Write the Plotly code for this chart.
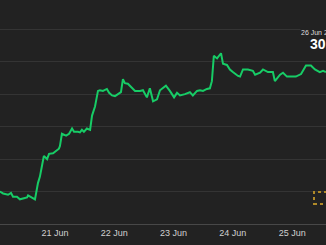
import plotly.graph_objects as go
from datetime import datetime, timedelta

# hours since 20 Jun 2025 00:00
hours = [1.7, 3.0, 5.0, 6.2, 7.0, 8.6, 9.8, 11.0, 12.7, 13.1, 14.7, 15.9, 17.1, 17.9, 18.7,
         19.5, 20.8, 21.6, 23.2, 24.4, 25.6, 26.0, 26.8, 28.5, 29.7, 30.9, 31.7, 33.3, 34.1,
         34.9, 35.7, 36.9, 38.2, 39.0, 40.2, 41.4, 42.2, 43.4, 45.0, 45.9, 47.1, 48.3, 49.5,
         50.7, 51.5, 52.3, 53.5, 55.2, 56.4, 58.4, 59.6, 61.2, 62.4, 63.7, 65.3, 66.5, 67.7,
         68.9, 70.5, 72.2, 73.4, 74.6, 76.6, 78.6, 79.8, 81.5, 82.7, 83.9, 85.5, 86.7, 87.5,
         88.3, 89.6, 90.4, 91.2, 91.6, 92.0, 93.6, 94.8, 96.0, 97.2, 98.1, 98.9, 100.1, 102.1,
         104.1, 105.0, 107.0, 108.2, 110.2, 112.2, 113.0, 115.1, 116.3, 117.9, 121.5, 123.6,
         125.6, 127.6, 129.2, 131.2, 132.5, 133.7]
prices = [28.50, 28.47, 28.45, 28.48, 28.42, 28.42, 28.38, 28.39, 28.41, 28.44, 28.41, 28.38,
          28.63, 28.73, 28.89, 29.05, 29.00, 29.08, 29.09, 29.13, 29.16, 29.20, 29.39, 29.36,
          29.39, 29.47, 29.42, 29.42, 29.41, 29.45, 29.42, 29.47, 29.45, 29.67, 29.81, 30.05,
          30.06, 30.05, 30.08, 30.02, 29.98, 29.97, 30.00, 30.03, 30.23, 30.17, 30.16, 30.09,
          30.05, 30.05, 30.06, 29.95, 30.09, 29.89, 29.92, 30.06, 30.09, 30.13, 30.05, 29.95,
          30.02, 29.98, 30.00, 30.03, 29.98, 30.05, 30.06, 30.05, 30.08, 30.09, 30.20, 30.59,
          30.55, 30.59, 30.63, 30.55, 30.47, 30.45, 30.38, 30.34, 30.30, 30.28, 30.27, 30.38,
          30.38, 30.36, 30.30, 30.33, 30.38, 30.34, 30.34, 30.20, 30.30, 30.33, 30.27, 30.27,
          30.31, 30.44, 30.44, 30.38, 30.34, 30.36, 30.34]
tick_days = ["2025-06-20", "2025-06-21", "2025-06-22", "2025-06-23", "2025-06-24", "2025-06-25"]
date_range_text = "06/20/2025 - 06/26/2025"
last_label = "26 Jun 2025"
last_value = "30.34"

base = datetime(2025, 6, 20)
times = [base + timedelta(hours=h) for h in hours]

BG = "#222222"
fig = go.Figure()
fig.add_trace(go.Scatter(x=times, y=prices, mode="lines",
                         line=dict(color="#17cc66", width=2), hoverinfo="skip"))

fig.update_layout(
    width=326, height=245,
    margin=dict(l=0, r=0, t=0, b=21),
    paper_bgcolor=BG, plot_bgcolor=BG,
    showlegend=False,
    font=dict(family="Liberation Sans, Arial, sans-serif", color="#d0d0d0", size=9),
    xaxis=dict(range=[base + timedelta(hours=1.74), base + timedelta(hours=133.7)],
               showgrid=False, zeroline=False, showline=True, linecolor="#484848",
               linewidth=1, tickvals=tick_days, tickformat="%d %b", ticks="",
               tickfont=dict(size=9, color="#d0d0d0")),
    yaxis=dict(range=[28, 31.45], dtick=0.5, showgrid=True, gridcolor="#343434",
               gridwidth=1, zeroline=False, showticklabels=False, ticks=""),
    annotations=[
        dict(xref="paper", yref="paper", x=78/326, y=(224-3.5)/224, xanchor="right",
             yanchor="bottom", text=date_range_text, showarrow=False,
             font=dict(size=9, color="#aaaaaa")),
        dict(xref="paper", yref="paper", x=300/326, y=(224-32)/224, xanchor="left",
             yanchor="middle", text=last_label, showarrow=False, bgcolor=BG,
             borderpad=0, font=dict(size=7, color="#dddddd")),
        dict(xref="paper", yref="paper", x=308/326, y=(224-44)/224, xanchor="left",
             yanchor="middle", text="<b>" + last_value + "</b>", showarrow=False,
             font=dict(size=14, color="#ffffff")),
    ],
    shapes=[
        dict(type="rect", xref="paper", yref="paper", x0=314/326, x1=1.02,
             y0=(224-204)/224, y1=(224-192)/224,
             line=dict(color="#b08a28", width=2, dash="dot")),
    ],
)

fig.write_html("out.html")
